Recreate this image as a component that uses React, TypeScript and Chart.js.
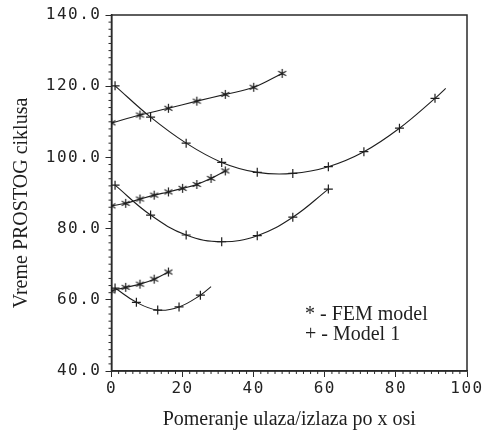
import React, { useEffect, useRef } from 'react';
import { Chart, registerables } from 'chart.js';

Chart.register(...registerables);

// ---- data ----
const femX1 = [0, 8, 16, 24, 32, 40, 48];
const femY1 = [109.7, 111.9, 113.8, 115.8, 117.7, 119.7, 123.6];
const femX2 = [0, 4, 8, 12, 16, 20, 24, 28, 32];
const femY2 = [86.4, 87.1, 88.3, 89.4, 90.3, 91.3, 92.4, 94.1, 96.2];
const femX3 = [0, 4, 8, 12, 16];
const femY3 = [62.5, 63.5, 64.4, 65.8, 67.8];

const modelX1 = [1, 11, 21, 31, 41, 51, 61, 71, 81, 91];
const modelY1 = [120.1, 111.3, 104.0, 98.6, 95.8, 95.5, 97.4, 101.6, 108.2, 116.6];
const modelTailX1 = [94];
const modelTailY1 = [119.4];
const modelX2 = [1, 11, 21, 31, 41, 51, 61];
const modelY2 = [92.2, 83.8, 78.2, 76.3, 78.0, 83.2, 91.1];
const modelX3 = [1, 7, 13, 19, 25];
const modelY3 = [63.3, 59.3, 57.1, 58.0, 61.3];
const modelTailX3 = [28];
const modelTailY3 = [63.7];

const xMin = 0, xMax = 100, xStep = 20;
const yMin = 40, yMax = 140, yStep = 20;
const minorStep = 2;

const xTitle = 'Pomeranje ulaza/izlaza po x osi';
const yTitle = 'Vreme PROSTOG ciklusa';
const legendLines = ['* - FEM model', '+ - Model 1'];

const INK = '#1e1e1e';
const AXIS = '#2a2a2a';
const TICKFONT = '"DejaVu Sans Mono", monospace';
const SERIF = '"Liberation Serif", "Times New Roman", serif';

function pts(xs: number[], ys: number[]) {
  return xs.map((x, i) => ({ x, y: ys[i] }));
}

function makeAsterisk(): HTMLCanvasElement {
  const size = 11;
  const c = document.createElement('canvas');
  c.width = size;
  c.height = size;
  const g = c.getContext('2d')!;
  const cx = size / 2, cy = size / 2, r = 4.6;
  g.strokeStyle = INK;
  g.lineWidth = 1.2;
  g.beginPath();
  for (const deg of [90, 30, 150]) {
    const a = (deg * Math.PI) / 180;
    g.moveTo(cx - r * Math.cos(a), cy - r * Math.sin(a));
    g.lineTo(cx + r * Math.cos(a), cy + r * Math.sin(a));
  }
  g.stroke();
  return c;
}

function curve(xs: number[], ys: number[], tx: number[], ty: number[], style: any, r: number) {
  const n = xs.length;
  return {
    data: pts(xs, ys).concat(pts(tx, ty)),
    borderColor: INK,
    backgroundColor: INK,
    borderWidth: 1.1,
    pointStyle: style,
    pointRadius: (c: any) => (c.dataIndex < n ? r : 0),
    pointBorderWidth: 1.2,
    pointBorderColor: INK,
    tension: 0.4,
    fill: false,
  };
}

const decorPlugin = {
  id: 'decor',
  beforeDraw(chart: any) {
    chart.ctx.letterSpacing = '1.5px';
  },
  beforeDatasetsDraw(chart: any) {
    const ctx = chart.ctx;
    ctx.letterSpacing = '0px';
    const { left, right, top, bottom } = chart.chartArea;
    const xs = chart.scales.x;
    const ys = chart.scales.y;
    ctx.save();
    ctx.strokeStyle = AXIS;
    ctx.lineWidth = 1;
    ctx.beginPath();
    for (let v = xMin; v <= xMax; v += minorStep) {
      if (v % xStep === 0) continue;
      const px = xs.getPixelForValue(v);
      ctx.moveTo(px, bottom);
      ctx.lineTo(px, bottom + 3);
    }
    for (let v = yMin; v <= yMax; v += minorStep) {
      if (v % yStep === 0) continue;
      const py = ys.getPixelForValue(v);
      ctx.moveTo(left, py);
      ctx.lineTo(left - 3, py);
    }
    ctx.stroke();
    ctx.lineWidth = 1.5;
    ctx.strokeRect(left, top, right - left, bottom - top);
    ctx.restore();
  },
  afterDraw(chart: any) {
    const ctx = chart.ctx;
    ctx.letterSpacing = '0px';
    const { left, right } = chart.chartArea;
    ctx.save();
    ctx.fillStyle = INK;
    ctx.font = `20px ${SERIF}`;
    ctx.textBaseline = 'alphabetic';
    ctx.textAlign = 'center';
    ctx.fillText(xTitle, (left + right) / 2, 425);
    ctx.save();
    ctx.translate(26.5, 203);
    ctx.rotate(-Math.PI / 2);
    ctx.fillText(yTitle, 0, 0);
    ctx.restore();
    ctx.textAlign = 'left';
    ctx.fillText(legendLines[0], 305, 320);
    ctx.fillText(legendLines[1], 305, 340);
    ctx.restore();
  },
};

export default function App() {
  const ref = useRef<HTMLCanvasElement>(null);
  useEffect(() => {
    if (!ref.current) return;
    const star = makeAsterisk();
    const chart = new Chart(ref.current, {
      type: 'line',
      data: {
        datasets: [
          curve(femX1, femY1, [], [], star, 5),
          curve(femX2, femY2, [], [], star, 5),
          curve(femX3, femY3, [], [], star, 5),
          curve(modelX1, modelY1, modelTailX1, modelTailY1, 'cross', 4.5),
          curve(modelX2, modelY2, [], [], 'cross', 4.5),
          curve(modelX3, modelY3, modelTailX3, modelTailY3, 'cross', 4.5),
        ] as any,
      },
      options: {
        animation: false,
        responsive: true,
        maintainAspectRatio: false,
        layout: { padding: { left: 0, top: 15, right: 18, bottom: 0 } },
        plugins: { legend: { display: false }, tooltip: { enabled: false } },
        scales: {
          x: {
            type: 'linear',
            min: xMin,
            max: xMax,
            afterFit: (s: any) => { s.height = 59; },
            ticks: {
              stepSize: xStep,
              color: '#222',
              padding: 2,
              maxRotation: 0,
              font: { family: TICKFONT, size: 16 },
              callback: (v: any) => String(v),
            },
            grid: { drawOnChartArea: false, tickLength: 6, color: AXIS, lineWidth: 1 },
            border: { display: true, color: AXIS, width: 1.5 },
          },
          y: {
            type: 'linear',
            min: yMin,
            max: yMax,
            afterFit: (s: any) => { s.width = 111.5; },
            ticks: {
              stepSize: yStep,
              color: '#222',
              padding: 4,
              font: { family: TICKFONT, size: 16 },
              callback: (v: any) => Number(v).toFixed(1),
            },
            grid: { drawOnChartArea: false, tickLength: 6, color: AXIS, lineWidth: 1 },
            border: { display: true, color: AXIS, width: 1.5 },
          },
        },
      },
      plugins: [decorPlugin],
    });
    return () => chart.destroy();
  }, []);
  return (
    <div style={{ position: 'fixed', left: 0, top: 0, width: 485, height: 430, background: '#fff' }}>
      <canvas ref={ref} />
    </div>
  );
}
